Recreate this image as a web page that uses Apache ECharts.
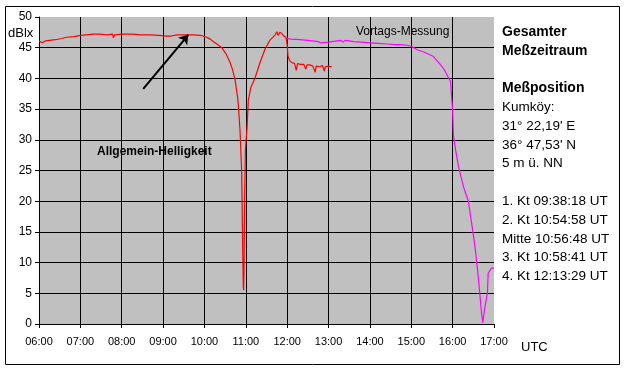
<!DOCTYPE html>
<html><head><meta charset="utf-8">
<script src="https://cdn.jsdelivr.net/npm/echarts@6/dist/echarts.min.js"></script>
<style>html,body{margin:0;padding:0;background:#fff}#c{width:625px;height:369px}</style>
</head><body><div id="c"></div>
<script>
// Red: Allgemein-Helligkeit (time in hours UTC, dBlx)
var redT = [6.00,6.08,6.15,6.25,6.40,6.55,6.67,6.85,7.00,7.15,7.30,7.47,7.65,7.78,7.80,7.83,8.00,8.15,8.28,8.45,8.68,8.90,9.09,9.20,9.33,9.50,9.73,9.90,9.97,10.05,10.14,10.21,10.30,10.42,10.52,10.62,10.68,10.74,10.81,10.86,10.90,10.925,10.94,10.947,10.955,10.965,10.975,10.99,11.03,11.06,11.12,11.22,11.34,11.46,11.58,11.71,11.75,11.78,11.82,11.87,11.92,11.97,12.00,12.02,12.06,12.11,12.18,12.22,12.25,12.31,12.35,12.40,12.45,12.48,12.55,12.62,12.68,12.70,12.79,12.85,12.90,12.92,13.00,13.08];
var redV = [46.1,45.8,46.1,46.2,46.3,46.5,46.7,46.8,47.0,47.1,47.2,47.2,47.1,47.2,46.6,47.1,47.2,47.2,47.2,47.1,47.1,47.0,46.9,46.9,47.1,47.1,47.1,47.0,46.9,46.7,46.4,46.0,45.6,45.0,44.0,42.6,41.4,39.8,36.5,31.5,24.8,12.0,6.0,5.5,8.0,15.0,22.0,28.4,32.0,36.4,38.5,40.0,42.5,44.7,46.2,47.1,47.6,47.0,47.5,47.3,46.9,46.7,45.5,43.6,42.9,42.6,42.4,41.3,42.4,42.3,42.2,42.3,41.5,42.2,42.2,42.0,41.0,42.0,41.9,42.1,41.2,41.9,42.0,41.9];
// Magenta: Vortags-Messung
var magT = [11.97,12.10,12.30,12.50,12.75,12.80,13.00,13.30,13.35,13.40,13.50,13.60,13.80,14.00,14.20,14.41,14.60,14.73,14.90,15.01,15.13,15.30,15.53,15.70,15.80,15.90,15.95,15.97,15.98,15.99,16.00,16.02,16.08,16.14,16.26,16.38,16.46,16.54,16.62,16.70,16.73,16.78,16.84,16.86,16.94,17.00];
var magV = [46.5,46.4,46.3,46.2,46.0,45.8,45.9,46.2,45.9,46.2,46.1,46.0,45.9,45.8,45.7,45.6,45.5,45.5,45.4,45.2,44.7,44.3,43.6,42.3,41.4,40.1,39.5,37.5,36.5,35.8,34.9,30.6,28.0,25.7,22.4,20.0,16.4,12.6,7.7,1.7,0.2,2.8,5.0,8.3,9.1,9.1];
// Arrow annotation (time, value) from tail to tip
var arrowFrom = [8.52, 38.3];
var arrowTo = [9.61, 47.1];
var infoLines = [
  ['Gesamter', true], ['Meßzeitraum', true], ['', false],
  ['Meßposition', true], ['Kumköy:', false], ['31° 22,19\' E', false], ['36° 47,53\' N', false], ['5 m ü. NN', false], ['', false],
  ['1. Kt 09:38:18 UT', false], ['2. Kt 10:54:58 UT', false], ['Mitte 10:56:48 UT', false], ['3. Kt 10:58:41 UT', false], ['4. Kt 12:13:29 UT', false]
];

function zip(a, b) { return a.map(function (x, i) { return [x, b[i]]; }); }
var F = 'Arial, "Liberation Sans", sans-serif';
var chart = echarts.init(document.getElementById('c'), null, {renderer: 'canvas'});

var graphics = [
  {type: 'rect', shape: {x: 5.5, y: 6.5, width: 614, height: 358}, style: {fill: 'none', stroke: '#000', lineWidth: 1}, z: 0},
  {type: 'text', left: 8, top: 27, style: {text: 'dBlx', font: '13px ' + F, fill: '#000'}},
  {type: 'text', left: 521, top: 341, style: {text: 'UTC', font: '13px ' + F, fill: '#000'}},
  {type: 'text', left: 356, top: 26, style: {text: 'Vortags-Messung', font: '12px ' + F, fill: '#000'}, z: 10},
  {type: 'text', left: 97, top: 146, style: {text: 'Allgemein-Helligkeit', font: 'bold 12px ' + F, fill: '#000'}, z: 10}
];
var yy = 32, dy = 18.8;
infoLines.forEach(function (l, i) {
  if (l[0]) graphics.push({type: 'text', x: 502, y: yy + i * dy, style: {text: l[0], font: (l[1] ? 'bold 14px ' : '13.5px ') + F, fill: '#000', verticalAlign: 'middle'}});
});

chart.setOption({
  animation: false,
  backgroundColor: '#fff',
  grid: {left: 39, right: 131, top: 17, bottom: 45, show: true, backgroundColor: '#C0C0C0', borderWidth: 0},
  xAxis: {
    type: 'value', min: 6, max: 17, interval: 1,
    axisLine: {show: true, onZero: false, lineStyle: {color: '#000', width: 1}},
    axisTick: {show: true, length: 4, lineStyle: {color: '#000'}},
    axisLabel: {margin: 12, color: '#000', fontSize: 11, fontFamily: F,
      formatter: function (v) { return (v < 10 ? '0' : '') + v + ':00'; }},
    splitLine: {show: true, showMinLine: false, showMaxLine: false, lineStyle: {color: '#000', width: 1}}
  },
  yAxis: {
    type: 'value', min: 0, max: 50, interval: 5,
    axisLine: {show: true, lineStyle: {color: '#000', width: 1}},
    axisTick: {show: true, length: 4, lineStyle: {color: '#000'}},
    axisLabel: {margin: 7, color: '#000', fontSize: 12, fontFamily: F},
    splitLine: {show: true, showMinLine: false, showMaxLine: false, lineStyle: {color: '#000', width: 1}}
  },
  series: [
    {type: 'line', name: 'Allgemein-Helligkeit', data: zip(redT, redV), showSymbol: false, symbol: 'none',
      lineStyle: {color: '#FF0000', width: 1.2}, z: 3,
      markLine: {silent: true, symbol: ['none', 'arrow'], symbolSize: 9,
        lineStyle: {color: '#000', width: 2, type: 'solid'}, label: {show: false},
        data: [[{coord: arrowFrom}, {coord: arrowTo}]]}},
    {type: 'line', name: 'Vortags-Messung', data: zip(magT, magV), showSymbol: false, symbol: 'none',
      lineStyle: {color: '#FF00FF', width: 1.2}, z: 2}
  ],
  graphic: graphics
});
</script></body></html>
